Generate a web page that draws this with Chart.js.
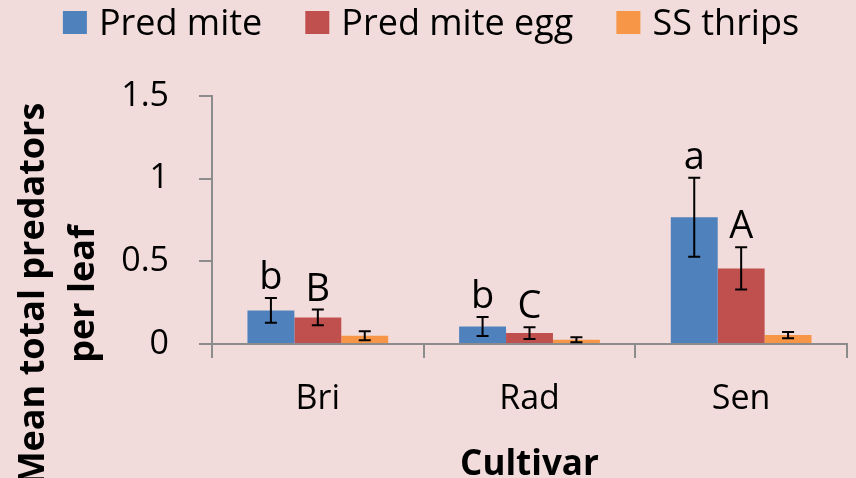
<!DOCTYPE html>
<html>
<head>
<meta charset="utf-8">
<script src="https://cdn.jsdelivr.net/npm/chart.js@4.4.1/dist/chart.umd.min.js"></script>
<style>
  html, body { margin: 0; padding: 0; background: #F2DCDB; }
  canvas { display: block; }
</style>
</head>
<body>
<canvas id="chart" width="856" height="478"></canvas>
<script>
// data
const cultivars = ["Bri", "Rad", "Sen"];
const predMite = [0.203, 0.106, 0.767];
const predMiteErr = [0.075, 0.058, 0.239];
const predMiteEgg = [0.161, 0.066, 0.457];
const predMiteEggErr = [0.047, 0.036, 0.128];
const ssThrips = [0.050, 0.026, 0.054];
const ssThripsErr = [0.027, 0.015, 0.019];
const miteLetters = ["b", "b", "a"];
const eggLetters = ["B", "C", "A"];
const thripsLetters = ["", "", ""];

const FONT = "'Open Sans', sans-serif";
const AXIS_GREY = "#8c8c8c";

// error bars + significance letters
const errorBars = {
  id: "errorBars",
  afterDatasetsDraw(chart) {
    const ctx = chart.ctx;
    const y = chart.scales.y;
    ctx.save();
    chart.data.datasets.forEach((ds, i) => {
      const meta = chart.getDatasetMeta(i);
      meta.data.forEach((bar, j) => {
        const v = ds.data[j];
        const e = ds.errors[j];
        const top = y.getPixelForValue(v + e);
        const bot = y.getPixelForValue(v - e);
        ctx.strokeStyle = "#000";
        ctx.lineWidth = 2;
        ctx.beginPath();
        ctx.moveTo(bar.x, top);
        ctx.lineTo(bar.x, bot);
        ctx.moveTo(bar.x - 6, top);
        ctx.lineTo(bar.x + 6, top);
        ctx.moveTo(bar.x - 6, bot);
        ctx.lineTo(bar.x + 6, bot);
        ctx.stroke();

        const letter = ds.letters[j];
        if (letter) {
          ctx.fillStyle = "#000";
          ctx.font = "38px " + FONT;
          ctx.textAlign = "center";
          ctx.textBaseline = "alphabetic";
          ctx.fillText(letter, bar.x, top - 9);
        }
      });
    });
    ctx.restore();
  },
};

// legend across the top and the two-line y title
const extras = {
  id: "extras",
  afterDraw(chart) {
    const ctx = chart.ctx;
    ctx.save();
    ctx.font = "36px " + FONT;
    const box = 24, gapText = 12, gapItem = 43;
    const items = chart.data.datasets.map((ds) => ({
      label: ds.label,
      color: ds.backgroundColor,
      w: ctx.measureText(ds.label).width,
    }));
    const total = items.reduce((s, it) => s + box + gapText + it.w, 0) + gapItem * (items.length - 1);
    let x = 431 - total / 2;
    ctx.textBaseline = "alphabetic";
    ctx.textAlign = "left";
    items.forEach((it) => {
      ctx.fillStyle = it.color;
      ctx.fillRect(x, 11, box, 23);
      ctx.fillStyle = "#000";
      ctx.fillText(it.label, x + box + gapText, 35);
      x += box + gapText + it.w + gapItem;
    });

    // y axis title
    ctx.font = "bold 36px " + FONT;
    ctx.textAlign = "center";
    ctx.textBaseline = "middle";
    ctx.fillStyle = "#000";
    ctx.translate(0, 294);
    ctx.rotate(-Math.PI / 2);
    ctx.fillText("Mean total predators", 0, 34);
    ctx.fillText("per leaf", 0, 84);
    ctx.restore();
  },
};

new Chart(document.getElementById("chart"), {
  type: "bar",
  data: {
    labels: cultivars,
    datasets: [
      {
        label: "Pred mite",
        data: predMite,
        errors: predMiteErr,
        letters: miteLetters,
        backgroundColor: "#4F81BD",
      },
      {
        label: "Pred mite egg",
        data: predMiteEgg,
        errors: predMiteEggErr,
        letters: eggLetters,
        backgroundColor: "#C0504D",
      },
      {
        label: "SS thrips",
        data: ssThrips,
        errors: ssThripsErr,
        letters: thripsLetters,
        backgroundColor: "#F79646",
      },
    ],
  },
  options: {
    responsive: false,
    animation: false,
    categoryPercentage: 0.665,
    barPercentage: 1.0,
    layout: { padding: { top: 96, right: 9, left: 0, bottom: 0 } },
    scales: {
      x: {
        grid: {
          drawOnChartArea: false,
          color: AXIS_GREY,
          lineWidth: 2,
          tickLength: 14,
        },
        border: { color: AXIS_GREY, width: 2 },
        ticks: {
          color: "#000",
          font: { family: FONT, size: 34 },
          padding: 21,
        },
        title: {
          display: true,
          text: "Cultivar",
          color: "#000",
          font: { family: FONT, size: 35, weight: "bold", lineHeight: 1 },
          padding: { top: 0, bottom: -5 },
        },
        afterFit(scale) {
          scale.height = 134;
        },
      },
      y: {
        min: 0,
        max: 1.5,
        ticks: {
          stepSize: 0.5,
          color: "#000",
          font: { family: FONT, size: 34 },
          padding: 30,
          callback: (value) => String(value),
        },
        grid: {
          drawOnChartArea: false,
          color: AXIS_GREY,
          lineWidth: 2,
          tickLength: 13,
        },
        border: { color: AXIS_GREY, width: 2 },
        afterFit(scale) {
          scale.width = 212;
        },
      },
    },
    plugins: {
      legend: { display: false },
      tooltip: { enabled: false },
    },
  },
  plugins: [errorBars, extras],
});
</script>
</body>
</html>
